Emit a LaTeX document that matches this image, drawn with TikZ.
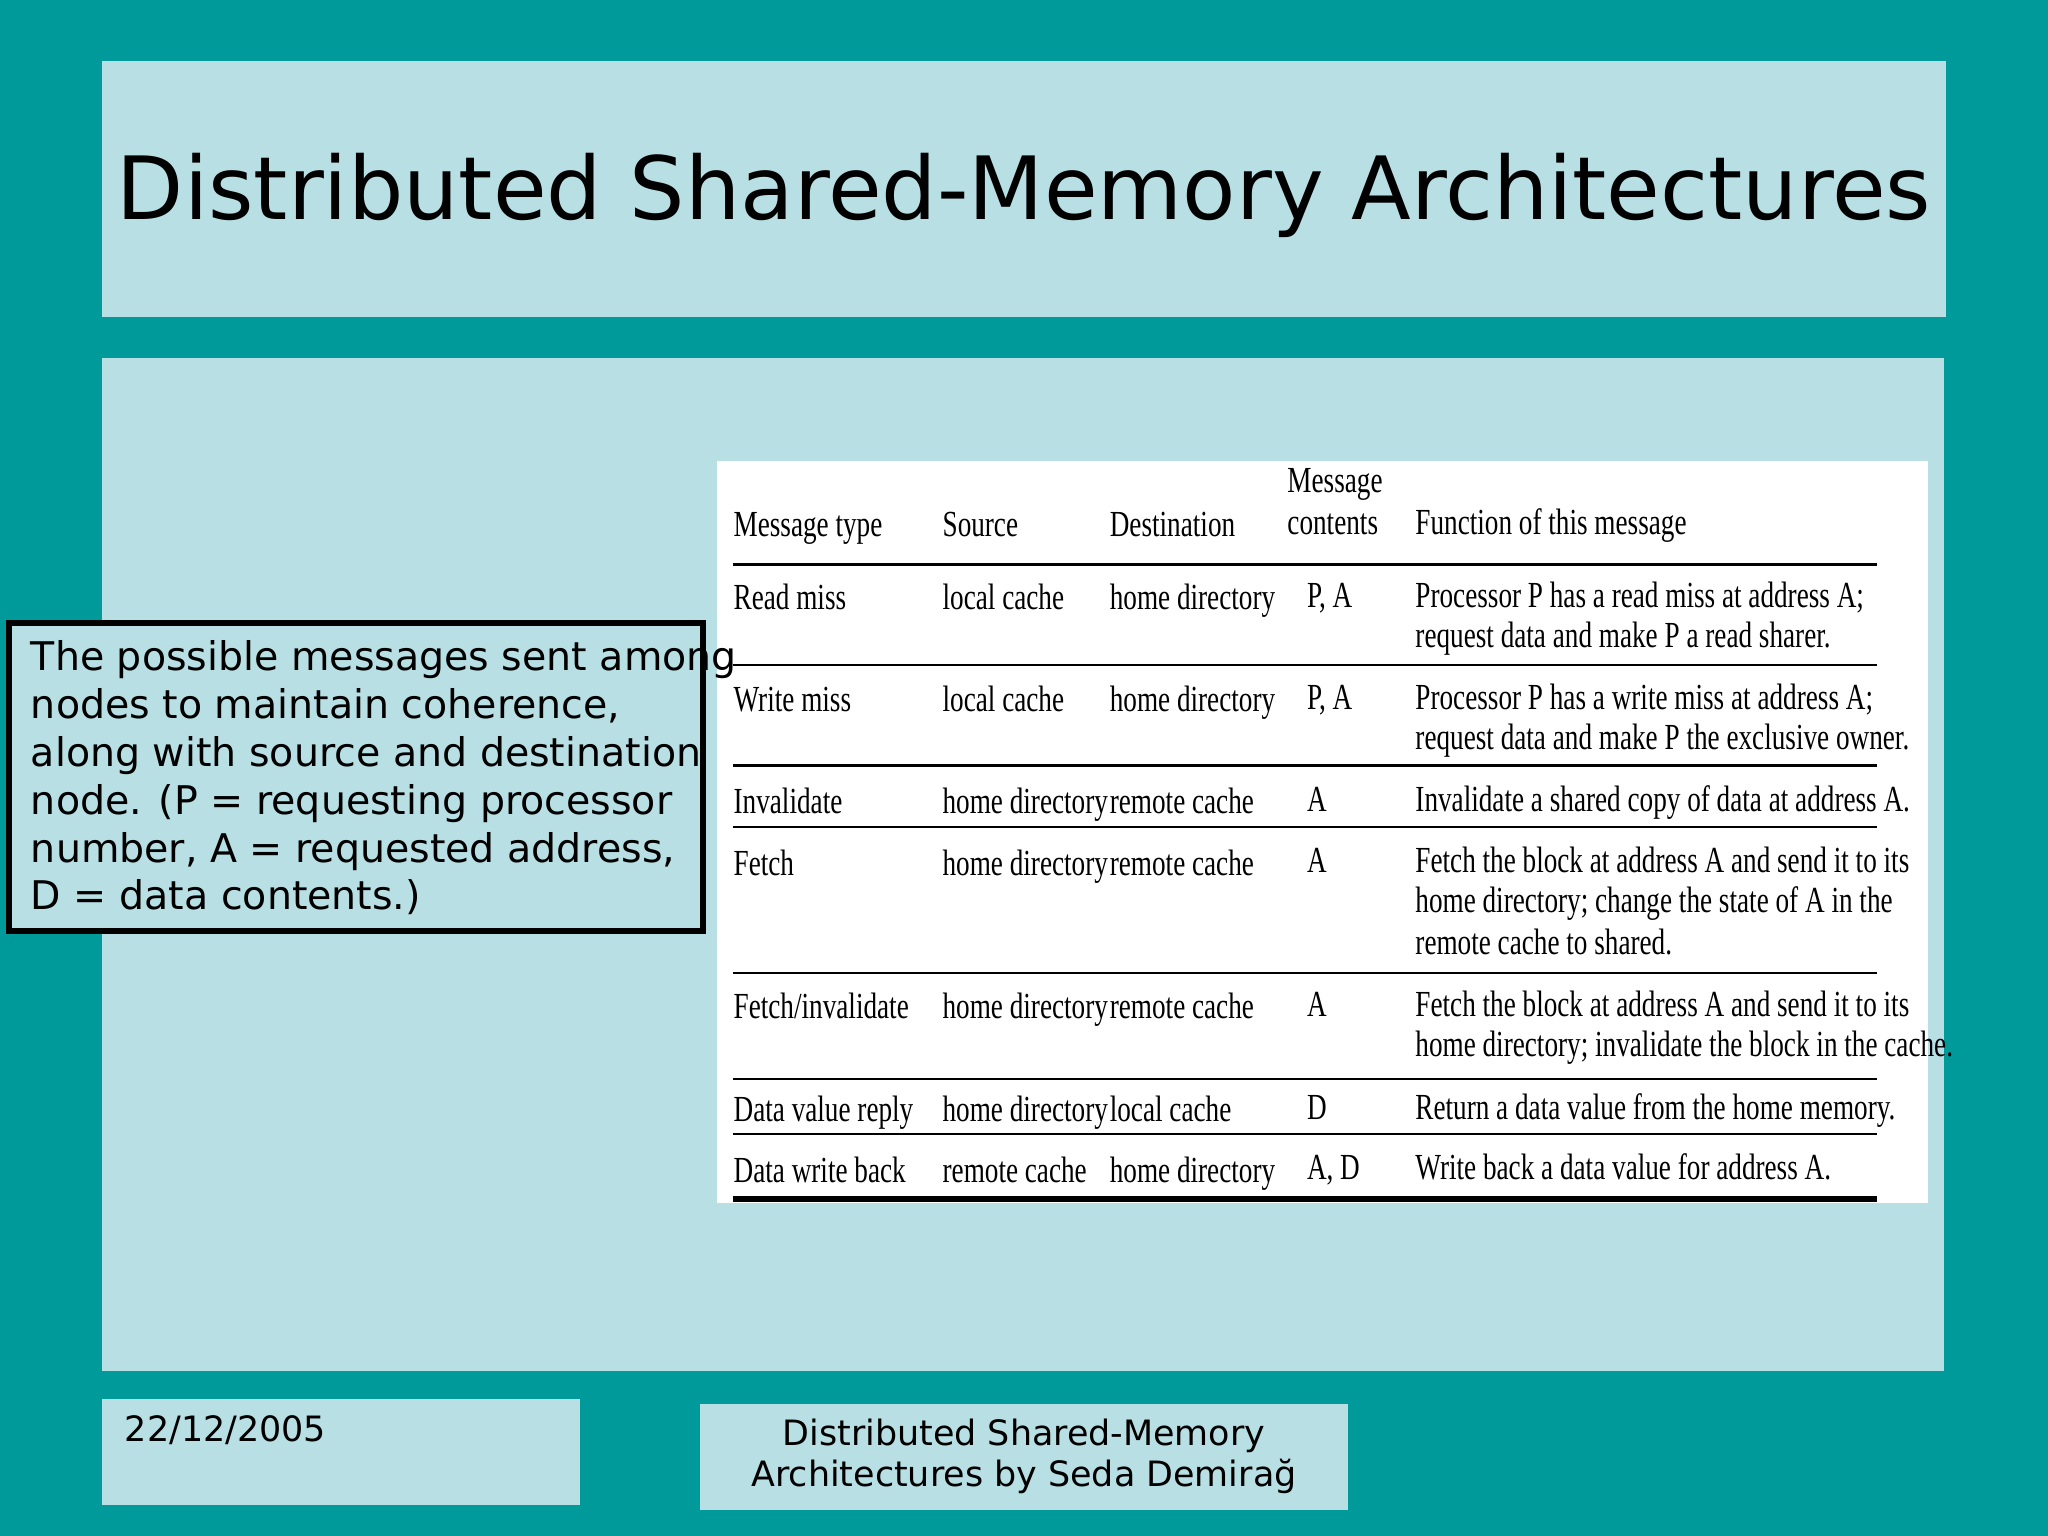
\documentclass[tikz,border=0pt]{standalone}
\usepackage{fontspec}
\setmainfont{DejaVu Sans}
\newfontfamily\tabf[FakeStretch=0.74]{Liberation Serif}
\definecolor{teal0}{HTML}{009A9A}
\definecolor{pale}{HTML}{B8E0E4}
\tikzset{
  tb/.style={anchor=base west,inner sep=0,font=\tabf\fontsize{8}{9}\selectfont},
  rule/.style={line width=0.5pt},
  panel/.style={fill=pale,draw=none}
}
\begin{document}
\begin{tikzpicture}[x=0.01cm,y=-0.01cm]
\fill[teal0] (0,0) rectangle (1568,1176);
\useasboundingbox (0,0) rectangle (1568,1176);
\fill[pale] (78,47) rectangle (1490,243);
\node[font=\fontsize{19}{22}\selectfont] (title) at (784,150) {Distributed Shared-Memory Architectures};
\fill[pale] (78,274) rectangle (1488,1050);
\fill[white] (549,353) rectangle (1476,921);
% header
\node[tb] (h1) at (561,411) {Message type};
\node[tb] (h2) at (721,411) {Source};
\node[tb] (h3) at (849,411) {Destination};
\node[tb] (h4a) at (985,377) {Message};
\node[tb] (h4b) at (985,409) {contents};
\node[tb] (h5) at (1083,409) {Function of this message};
\foreach \y/\w in {432/0.6pt,509/0.5pt,586/0.5pt,633/0.5pt,745/0.5pt,826/0.5pt,868/0.5pt,918/1.4pt}
  \draw[line width=\w] (561,\y) -- (1437,\y);
% rows
\node[tb] at (561,467) {Read miss};
\node[tb] at (721,467) {local cache};
\node[tb] at (849,467) {home directory};
\node[tb] at (1000,465) {P, A};
\node[tb] at (1083,465) {Processor P has a read miss at address A;};
\node[tb] at (1083,496) {request data and make P a read sharer.};
\node[tb] at (561,545) {Write miss};
\node[tb] at (721,545) {local cache};
\node[tb] at (849,545) {home directory};
\node[tb] at (1000,543) {P, A};
\node[tb] at (1083,543) {Processor P has a write miss at address A;};
\node[tb] at (1083,574) {request data and make P the exclusive owner.};
\node[tb] at (561,623) {Invalidate};
\node[tb] at (721,623) {home directory};
\node[tb] at (849,623) {remote cache};
\node[tb] at (1000,621) {A};
\node[tb] at (1083,621) {Invalidate a shared copy of data at address A.};
\node[tb] at (561,670) {Fetch};
\node[tb] at (721,670) {home directory};
\node[tb] at (849,670) {remote cache};
\node[tb] at (1000,668) {A};
\node[tb] at (1083,668) {Fetch the block at address A and send it to its};
\node[tb] at (1083,699) {home directory; change the state of A in the};
\node[tb] at (1083,731) {remote cache to shared.};
\node[tb] at (561,780) {Fetch/invalidate};
\node[tb] at (721,780) {home directory};
\node[tb] at (849,780) {remote cache};
\node[tb] at (1000,778) {A};
\node[tb] at (1083,778) {Fetch the block at address A and send it to its};
\node[tb] at (1083,809) {home directory; invalidate the block in the cache.};
\node[tb] at (561,859) {Data value reply};
\node[tb] at (721,859) {home directory};
\node[tb] at (849,859) {local cache};
\node[tb] at (1000,857) {D};
\node[tb] at (1083,857) {Return a data value from the home memory.};
\node[tb] at (561,905) {Data write back};
\node[tb] at (721,905) {remote cache};
\node[tb] at (849,905) {home directory};
\node[tb] at (1000,903) {A, D};
\node[tb] at (1083,903) {Write back a data value for address A.};
% text box
\draw[line width=1.3pt,fill=pale] (7,477) rectangle (538,713);
\node[anchor=north west,align=left,inner sep=0,font=\fontsize{8.6}{10.4}\selectfont] (desc) at (23,490)
 {The possible messages sent among\\nodes to maintain coherence,\\along with source and destination\\node. (P = requesting processor\\number, A = requested address,\\D = data contents.)};
% footer
\fill[pale] (78,1071) rectangle (444,1152);
\node[anchor=base west,inner sep=0,font=\fontsize{7.6}{9}\selectfont] (date) at (95,1104) {22/12/2005};
\fill[pale] (536,1075) rectangle (1032,1156);
\node[align=center,inner sep=0,font=\fontsize{7.6}{8.9}\selectfont] (foot) at (784,1115) {Distributed Shared-Memory\\Architectures by Seda Demirağ};
\end{tikzpicture}
\end{document}
